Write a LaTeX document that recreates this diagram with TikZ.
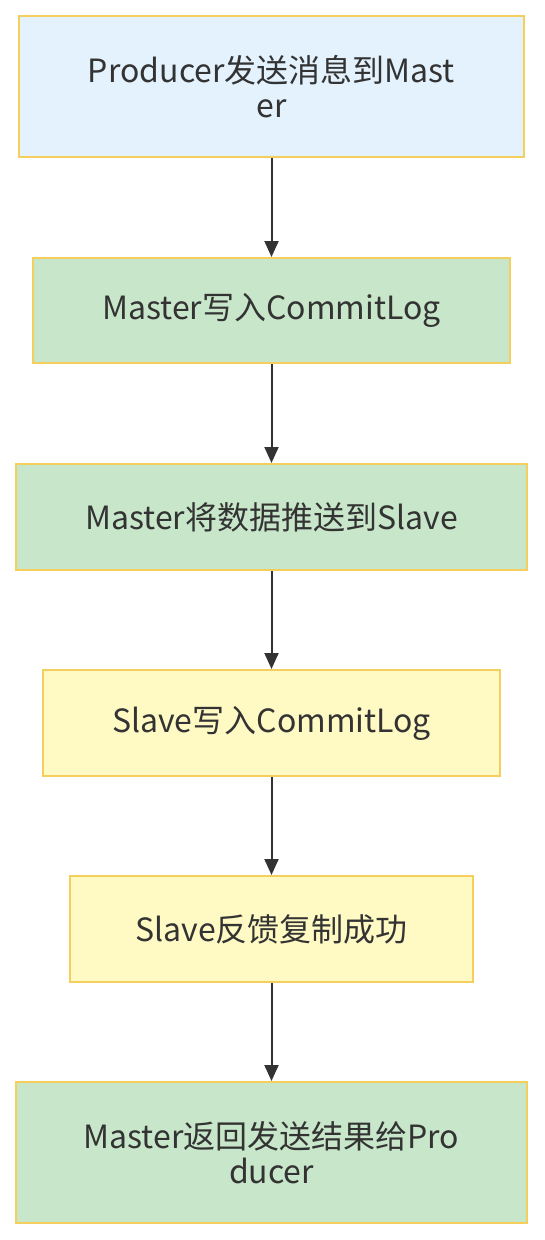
\documentclass[tikz,border=0pt]{standalone}
\usepackage{fontspec}
\setmainfont{Noto Sans CJK SC}
\usetikzlibrary{arrows.meta}
\definecolor{bluef}{HTML}{E3F2FD}
\definecolor{greenf}{HTML}{C8E6C9}
\definecolor{yellowf}{HTML}{FFF9C4}
\definecolor{bord}{HTML}{F5CF5E}
\definecolor{ink}{HTML}{333333}
\tikzset{
  box/.style={draw=bord, line width=2pt, rectangle, align=center, text=ink,
    font=\fontsize{32}{35}\selectfont, inner sep=0pt},
  conn/.style={draw=ink, line width=2pt, -{Triangle[width=14pt,length=16pt]}}
}
\begin{document}
\begin{tikzpicture}[x=1pt,y=-1pt]
\useasboundingbox (0,0) rectangle (544,1240);
\node[box, fill=bluef, minimum width=505pt, minimum height=141pt] (n1) at (271.5,86.5) {Producer发送消息到Mast\\er};
\node[box, fill=greenf, minimum width=477pt, minimum height=105pt] (n2) at (271.5,310.5) {Master写入CommitLog};
\node[box, fill=greenf, minimum width=511pt, minimum height=106pt] (n3) at (271.5,517) {Master将数据推送到Slave};
\node[box, fill=yellowf, minimum width=457pt, minimum height=106pt] (n4) at (271.5,723) {Slave写入CommitLog};
\node[box, fill=yellowf, minimum width=403pt, minimum height=106pt] (n5) at (271.5,929) {Slave反馈复制成功};
\node[box, fill=greenf, minimum width=511pt, minimum height=141pt] (n6) at (271.5,1152.5) {Master返回发送结果给Pro\\ducer};
\draw[conn] (n1) -- (n2);
\draw[conn] (n2) -- (n3);
\draw[conn] (n3) -- (n4);
\draw[conn] (n4) -- (n5);
\draw[conn] (n5) -- (n6);
\end{tikzpicture}
\end{document}
